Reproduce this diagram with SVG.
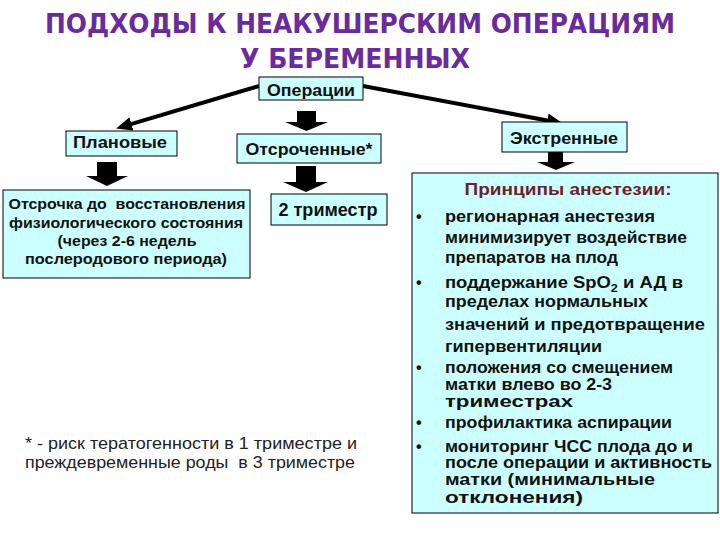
<svg xmlns="http://www.w3.org/2000/svg" width="720" height="540" viewBox="0 0 720 540">
<defs>
<style>
.title{font-family:"DejaVu Sans","Liberation Sans",sans-serif;font-weight:bold;font-size:26px;fill:#6A2C9C;text-anchor:middle}
.box{fill:#CCFFFF;stroke:#000;stroke-width:1}
.lbl{font-family:"Liberation Sans",Arial,sans-serif;font-weight:bold;font-size:16px;fill:#111;text-anchor:middle}
.small{font-family:"Liberation Sans",Arial,sans-serif;font-weight:bold;font-size:15px;fill:#111;text-anchor:middle}
.body{font-family:"Liberation Sans",Arial,sans-serif;font-weight:bold;font-size:16px;fill:#111}
.head{font-family:"Liberation Sans",Arial,sans-serif;font-weight:bold;font-size:17px;fill:#6B1F2F;text-anchor:middle}
.note{font-family:"Liberation Sans",Arial,sans-serif;font-size:17px;fill:#222}
.conn{stroke:#000;stroke-width:4;fill:none}
.blk{fill:#000}
</style>
<marker id="ah" markerUnits="userSpaceOnUse" markerWidth="16" markerHeight="14" refX="4" refY="7" orient="auto">
<path d="M0,0 L16,7 L0,14 z" fill="#000"/>
</marker>
</defs>
<rect width="720" height="540" fill="#fff"/>
<g id="title">
<text class="title" x="360" y="33" textLength="630" lengthAdjust="spacingAndGlyphs">ПОДХОДЫ К НЕАКУШЕРСКИМ ОПЕРАЦИЯМ</text>
<text class="title" x="355" y="68" textLength="230" lengthAdjust="spacingAndGlyphs">У БЕРЕМЕННЫХ</text>
</g>
<g id="connectors">
<line class="conn" x1="259" y1="86" x2="127.6" y2="125.1" marker-end="url(#ah)"/>
<line class="conn" x1="363" y1="86" x2="551.2" y2="121.2" marker-end="url(#ah)"/>
<polygon class="blk" points="297,111 316,111 316,122 328,122 306.5,131 285,122 297,122"/>
<polygon class="blk" points="296,166 316,166 316,182 328,182 306,192 283,182 296,182"/>
<polygon class="blk" points="97,162 117,162 117,176 128,176 107,186 86,176 97,176"/>
<polygon class="blk" points="548,152 563,152 563,162 575,162 556,170 537,162 548,162"/>
</g>
<g id="operations">
<rect class="box" x="259" y="77" width="104" height="23"/>
<text class="lbl" x="311" y="96" textLength="88" lengthAdjust="spacingAndGlyphs">Операции</text>
</g>
<g id="planned">
<rect class="box" x="66" y="131" width="111" height="25"/>
<text class="lbl" x="120" y="148" textLength="94" lengthAdjust="spacingAndGlyphs">Плановые</text>
</g>
<g id="delayed">
<rect class="box" x="237" y="134" width="144" height="29"/>
<text class="lbl" x="309" y="155" textLength="127" lengthAdjust="spacingAndGlyphs">Отсроченные*</text>
</g>
<g id="emergency">
<rect class="box" x="502" y="122" width="125" height="30"/>
<text class="lbl" x="564" y="144" textLength="108" lengthAdjust="spacingAndGlyphs">Экстренные</text>
</g>
<g id="postpone">
<rect class="box" x="3" y="190" width="247" height="88"/>
<text class="small" x="127" y="209" textLength="237" lengthAdjust="spacingAndGlyphs" xml:space="preserve">Отсрочка до  восстановления</text>
<text class="small" x="126" y="228" textLength="234" lengthAdjust="spacingAndGlyphs">физиологического состояния</text>
<text class="small" x="127" y="246" textLength="139" lengthAdjust="spacingAndGlyphs">(через 2-6 недель</text>
<text class="small" x="126" y="264" textLength="202" lengthAdjust="spacingAndGlyphs">послеродового периода)</text>
</g>
<g id="trimester">
<rect class="box" x="271" y="194" width="116" height="31"/>
<text class="lbl" x="328" y="216" style="font-size:18px" textLength="99" lengthAdjust="spacingAndGlyphs">2 триместр</text>
</g>
<g id="principles">
<rect class="box" x="412" y="173" width="306" height="340"/>
<text class="head" x="568" y="195" textLength="207" lengthAdjust="spacingAndGlyphs">Принципы анестезии:</text>
<g class="body">
<text x="416" y="222">•</text><text x="445" y="222" textLength="210" lengthAdjust="spacingAndGlyphs">регионарная анестезия</text>
<text x="445" y="243" textLength="242" lengthAdjust="spacingAndGlyphs">минимизирует воздействие</text>
<text x="445" y="263" textLength="173" lengthAdjust="spacingAndGlyphs">препаратов на плод</text>
<text x="416" y="288">•</text><text x="445" y="288" textLength="238" lengthAdjust="spacingAndGlyphs">поддержание SpO<tspan font-size="11" dy="4">2</tspan><tspan dy="-4"> и АД в</tspan></text>
<text x="445" y="307" textLength="203" lengthAdjust="spacingAndGlyphs">пределах нормальных</text>
<text x="445" y="330" textLength="260" lengthAdjust="spacingAndGlyphs">значений и предотвращение</text>
<text x="445" y="352" textLength="157" lengthAdjust="spacingAndGlyphs">гипервентиляции</text>
<text x="416" y="373">•</text><text x="445" y="373" textLength="228" lengthAdjust="spacingAndGlyphs">положения со смещением</text>
<text x="445" y="390" textLength="167" lengthAdjust="spacingAndGlyphs">матки влево во 2-3</text>
<text x="445" y="407" textLength="128" lengthAdjust="spacingAndGlyphs">триместрах</text>
<text x="416" y="428">•</text><text x="445" y="428" textLength="227" lengthAdjust="spacingAndGlyphs">профилактика аспирации</text>
<text x="416" y="452">•</text><text x="445" y="452" textLength="248" lengthAdjust="spacingAndGlyphs">мониторинг ЧСС плода до и</text>
<text x="445" y="468" textLength="267" lengthAdjust="spacingAndGlyphs">после операции и активность</text>
<text x="445" y="485" textLength="210" lengthAdjust="spacingAndGlyphs">матки (минимальные</text>
<text x="445" y="503" textLength="138" lengthAdjust="spacingAndGlyphs">отклонения)</text>
</g>
</g>
<g id="footnote">
<text class="note" x="25" y="449" textLength="332" lengthAdjust="spacingAndGlyphs">* - риск тератогенности в 1 триместре и</text>
<text class="note" x="25" y="468" textLength="330" lengthAdjust="spacingAndGlyphs" xml:space="preserve">преждевременные роды  в 3 триместре</text>
</g>
</svg>
